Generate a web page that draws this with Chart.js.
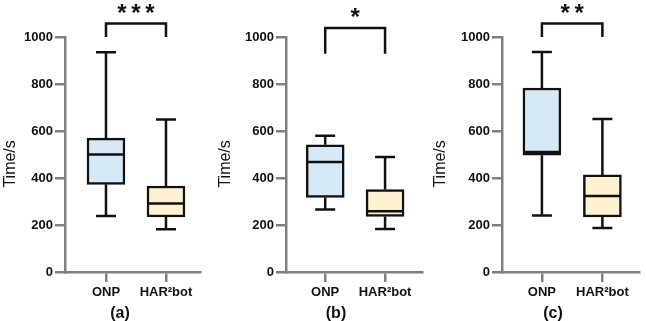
<!DOCTYPE html>
<html>
<head>
<meta charset="utf-8">
<script src="https://cdn.jsdelivr.net/npm/chart.js@4.4.1/dist/chart.umd.min.js"></script>
<style>
  html, body { margin:0; padding:0; background:#fff; overflow:hidden; }
  #wrap { position:relative; width:646px; height:321px; }
  canvas { position:absolute; top:0; }
  .plabel { position:absolute; font:bold 16px "Liberation Sans", Arial, sans-serif; color:#111; transform:translateX(-50%); top:304px; }
</style>
</head>
<body>
<div id="wrap">
  <canvas id="c0" width="215" height="321" style="left:0px"></canvas>
  <canvas id="c1" width="215" height="321" style="left:215px"></canvas>
  <canvas id="c2" width="216" height="321" style="left:430px"></canvas>
  <div class="plabel" style="left:120px">(a)</div>
  <div class="plabel" style="left:336px">(b)</div>
  <div class="plabel" style="left:553px">(c)</div>
</div>
<script>
// ---- data ----
const categories = ['ONP', 'HAR\u00B2bot'];
const panelLabels = ['(a)', '(b)', '(c)'];
const significance = ['***', '*', '**'];
const yTicks = [0, 200, 400, 600, 800, 1000];
const yTitle = 'Time/s';

const onpMin    = [238, 266, 240];
const onpQ1     = [373, 317, 497];
const onpMedian = [500, 468, 511];
const onpQ3     = [570, 541, 783];
const onpMax    = [935, 580, 936];

const harMin    = [182, 183, 187];
const harQ1     = [234, 236, 234];
const harMedian = [291, 258, 323];
const harQ3     = [366, 351, 413];
const harMax    = [649, 489, 651];

const bracketTop = [1057, 1038, 1057];
const bracketEnd = [1000, 929, 1000];
const starLevel  = [1118, 1102, 1118];

// ---- layout (per panel) ----
const yAxisWidth = [65, 71, 72];
const rightPad   = [15, 8, 7];
const xMin = [0.317, 0.345, 0.34];
const xMax = [2.567, 2.617, 2.605];

const AXIS = '#808080';
const INK = '#111111';
const FONT = '"Liberation Sans", Arial, sans-serif';

const boxPlugin = {
  id: 'boxWhisker',
  afterDatasetsDraw(chart) {
    const i = chart.options.plugins.boxWhisker.panel;
    const ctx = chart.ctx;
    const xs = chart.scales.x, ys = chart.scales.y;
    const meta = chart.getDatasetMeta(0);
    const stats = [
      [onpMin[i], onpQ1[i], onpMedian[i], onpQ3[i], onpMax[i]],
      [harMin[i], harQ1[i], harMedian[i], harQ3[i], harMax[i]]
    ];
    ctx.save();
    ctx.strokeStyle = INK;
    ctx.lineWidth = 2.5;
    ctx.lineCap = 'butt';
    stats.forEach((s, j) => {
      const bar = meta.data[j];
      const x = bar.x;
      const half = bar.width / 2;
      const cap = 10;
      const pMin = ys.getPixelForValue(s[0]);
      const pQ1 = ys.getPixelForValue(s[1]);
      const pMed = ys.getPixelForValue(s[2]);
      const pQ3 = ys.getPixelForValue(s[3]);
      const pMax = ys.getPixelForValue(s[4]);
      ctx.beginPath();
      ctx.moveTo(x, pQ3); ctx.lineTo(x, pMax);
      ctx.moveTo(x - cap, pMax); ctx.lineTo(x + cap, pMax);
      ctx.moveTo(x, pQ1); ctx.lineTo(x, pMin);
      ctx.moveTo(x - cap, pMin); ctx.lineTo(x + cap, pMin);
      ctx.moveTo(x - half + 1, pMed); ctx.lineTo(x + half - 1, pMed);
      ctx.stroke();
    });
    // significance bracket
    const x1 = xs.getPixelForValue(1), x2 = xs.getPixelForValue(2);
    const yT = ys.getPixelForValue(bracketTop[i]);
    const yE = ys.getPixelForValue(bracketEnd[i]);
    ctx.beginPath();
    ctx.moveTo(x1, yE); ctx.lineTo(x1, yT); ctx.lineTo(x2, yT); ctx.lineTo(x2, yE);
    ctx.lineJoin = 'miter';
    ctx.stroke();
    // stars
    const fs = 24;
    ctx.fillStyle = INK;
    ctx.font = 'bold ' + fs + 'px ' + FONT;
    ctx.textAlign = 'center';
    ctx.textBaseline = 'alphabetic';
    const stars = significance[i];
    const spacing = 14;
    const yS = ys.getPixelForValue(starLevel[i]) + fs * 0.5;
    const mid = (x1 + x2) / 2;
    for (let k = 0; k < stars.length; k++) {
      const sx = mid + (k - (stars.length - 1) / 2) * spacing;
      ctx.fillText('*', sx, yS);
    }
    // y-axis title (rotated), slightly below axis centre as in the figure
    ctx.save();
    ctx.font = '16px ' + FONT;
    ctx.textAlign = 'center';
    ctx.textBaseline = 'middle';
    ctx.translate(ys.left + 11, ys.getPixelForValue(460));
    ctx.rotate(-Math.PI / 2);
    ctx.fillText(yTitle, 0, 0);
    ctx.restore();
    ctx.restore();
  }
};

function makePanel(i) {
  const ctx = document.getElementById('c' + i);
  new Chart(ctx, {
    type: 'bar',
    data: {
      datasets: [{
        data: [
          { x: 1, y: [onpQ1[i], onpQ3[i]] },
          { x: 2, y: [harQ1[i], harQ3[i]] }
        ],
        backgroundColor: ['#d5e9f6', '#fdf1cf'],
        borderColor: INK,
        borderWidth: 2.5,
        borderSkipped: false,
        barThickness: 38
      }]
    },
    options: {
      responsive: false,
      animation: false,
      layout: { padding: { top: 37, right: rightPad[i], left: 0, bottom: 0 } },
      plugins: {
        legend: { display: false },
        tooltip: { enabled: false },
        boxWhisker: { panel: i }
      },
      scales: {
        x: {
          type: 'linear',
          offset: false,
          bounds: 'data',
          min: xMin[i],
          max: xMax[i],
          afterBuildTicks: s => { s.ticks = [{ value: 1 }, { value: 2 }]; },
          ticks: {
            callback: v => categories[Math.round(v) - 1],
            font: { family: FONT, size: 13, weight: 'bold' },
            color: INK,
            padding: 3,
            autoSkip: false,
            maxRotation: 0
          },
          grid: { display: true, offset: false, drawOnChartArea: false, drawTicks: true, tickLength: 10, color: AXIS, lineWidth: 2.5 },
          border: { display: true, color: AXIS, width: 2.5 },
          afterFit: s => { s.height = 49; }
        },
        y: {
          min: 0,
          max: 1000,
          afterBuildTicks: s => { s.ticks = yTicks.map(v => ({ value: v })); },
          ticks: {
            callback: v => String(v),
            font: { family: FONT, size: 13, weight: 'bold' },
            color: INK,
            padding: 2
          },
          grid: { display: true, drawOnChartArea: false, drawTicks: true, tickLength: 10, color: AXIS, lineWidth: 2.5 },
          border: { display: true, color: AXIS, width: 2.5 },
          afterFit: s => { s.width = yAxisWidth[i]; }
        }
      }
    },
    plugins: [boxPlugin]
  });
}
[0, 1, 2].forEach(makePanel);
</script>
</body>
</html>
